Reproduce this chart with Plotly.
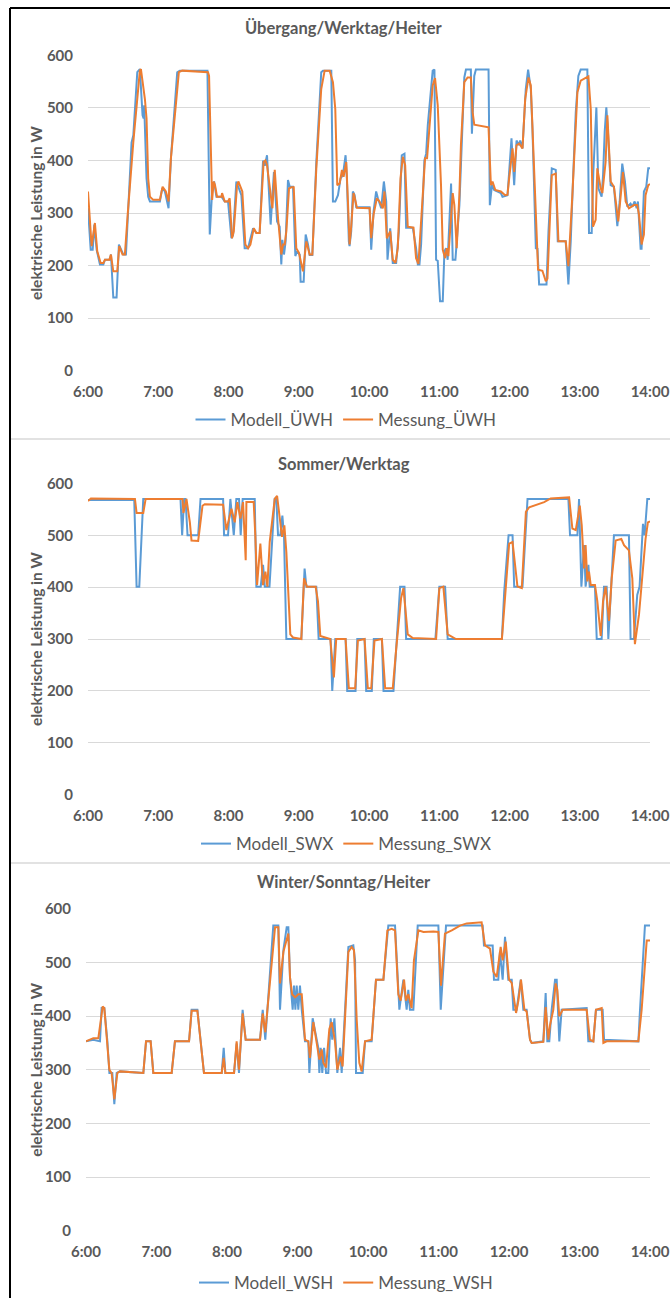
import plotly.graph_objects as go

W, H = 670, 1301

# ---------------- data (time in minutes after 6:00, power in W) ----------------
hour_labels = ["6:00", "7:00", "8:00", "9:00", "10:00", "11:00", "12:00", "13:00", "14:00"]
y_ticks = [0, 100, 200, 300, 400, 500, 600]

uwh_modell_t = [0, 2.3, 4, 5.4, 7.4, 10.2, 13.1, 14.5, 18.8, 19.6, 21.6, 24.4, 26.4, 28.7, 30.1, 32.4,
                34.4, 36, 37.2, 38.7, 42.1, 44.3, 46.6, 47.5, 48, 50, 51.4, 52.9, 61.4, 63.4, 65.7, 68.8,
                70.8, 76.2, 78.4, 102, 104, 106, 107.7, 109.7, 114, 116.8, 119.6, 122.5, 123.9, 126.7,
                131, 133.8, 136.7, 138.1, 141, 143.8, 146.6, 149.5, 151, 152.9, 156, 158.8, 161.5, 163.7,
                165.1, 166, 167.4, 168.8, 170.8, 172.3, 175.1, 177.1, 178.5, 180.8, 181.6, 184.2, 185.9,
                187.9, 189.3, 191.6, 195, 199.2, 200.7, 207.8, 209.2, 211.2, 213.5, 215.7, 217.7, 220,
                221.1, 222.8, 223.4, 224.8, 226.2, 227.7, 229.1, 240.5, 241.9, 243.9, 246.1, 247.6, 250.4,
                252.7, 254.7, 255.8, 258.1, 260.3, 263.2, 265.5, 268, 270.3, 271.7, 277.4, 280.2, 281.7,
                283.1, 284.5, 287.3, 288.8, 290.2, 294.4, 295.9, 297.3, 298.7, 300.7, 303, 304.4, 305.8,
                307.2, 310.1, 311.5, 313.8, 317.2, 319.4, 321.4, 322.8, 327, 327.9, 329.9, 331.3, 342.1,
                343.2, 345, 346.9, 352.6, 354, 358.3, 359.7, 361.7, 364, 366, 367.7, 369.1, 371.1, 373.9,
                375.9, 378.2, 379.6, 381, 382.5, 383.9, 385.3, 391.6, 393.3, 396.1, 399.5, 401.2, 408,
                410.3, 412.3, 414.3, 416.6, 418.8, 420.8, 426.5, 427.9, 430.2, 431.6, 434.2, 435.9, 438.7,
                439.9, 441.3, 442.7, 444.1, 446.4, 449.2, 452.1, 454.1, 456.3, 458.6, 460.6, 463.4, 464.9,
                466.9, 468.6, 469.7, 472, 472.8, 474.8, 476.8, 478.5, 480]
uwh_modell_w = [309, 230, 230, 278, 230, 202, 202, 211, 211, 221, 139, 139, 240, 230, 221, 221,
                309, 397, 434, 448, 568, 574, 486, 480, 505, 366, 331, 322, 322, 347, 341, 309,
                404, 568, 571, 571, 259, 341, 360, 331, 331, 322, 322, 252, 258, 360,
                334, 233, 233, 246, 271, 262, 262, 400, 390, 410, 278, 378, 284, 274,
                202, 249, 221, 246, 363, 350, 350, 218, 227, 221, 169, 169, 259,
                240, 220, 220, 397, 568, 571, 571, 322, 322, 334, 366, 372, 410,
                366, 246, 237, 265, 341, 334, 311, 311, 230, 303, 341, 328, 309,
                360, 322, 211, 271, 205, 205, 265, 410, 413, 272, 272, 233, 202,
                202, 240, 400, 413, 467, 571, 573, 211, 209, 132, 132, 227, 233,
                211, 356, 211, 211, 315, 460, 558, 573, 573, 451, 561, 573, 573,
                315, 353, 344, 338, 331, 334, 378, 442, 353, 438, 429, 438, 423, 536,
                573, 536, 460, 334, 233, 232, 164, 164, 265, 385, 382, 246, 246,
                164, 246, 366, 492, 561, 573, 573, 262, 262, 378, 501, 347, 331,
                372, 454, 501, 454, 353, 350, 275, 322, 394, 360, 312, 318, 312,
                322, 309, 322, 232, 232, 341, 350, 385, 385]

uwh_messung_t = [0, 1.7, 3.1, 5.9, 7.9, 10.8, 13.1, 14.5, 18.2, 19.6, 21.6, 25, 26.7, 29.5, 31.5, 34,
                 37.2, 38.7, 44.3, 45.2, 48.6, 50, 51.4, 52.9, 55.7, 61.4, 63.7, 66.5, 68.8, 70.8, 77.6,
                 80.5, 102.5, 103.4, 106, 107.4, 108.5, 110.2, 114, 114.5, 116.8, 119.6, 121, 123, 124.5,
                 127.3, 128.4, 131.8, 134.4, 136.7, 138.7, 141.6, 143.8, 146.6, 150, 151.5, 152.9, 157.5,
                 159.5, 162.3, 165.1, 166.6, 168, 169.4, 171.7, 173.7, 175.7, 177.9, 180.2, 182.2, 183.6,
                 186.5, 189.3, 191.6, 195, 199.2, 202.1, 206.4, 209.2, 211.2, 212.9, 214.9, 216.9, 218.3,
                 220.6, 222, 223.4, 224.8, 226.8, 228.5, 229.7, 240.5, 241.9, 243.9, 246.7, 249, 251.8,
                 253.2, 255.2, 258.1, 260.3, 262.6, 264.6, 266.9, 268.9, 270.9, 273.1, 278, 280.2, 282.2,
                 285.9, 287.9, 289.6, 291.6, 294.4, 296.4, 298.7, 301.5, 303, 305, 306.4, 307.8, 310.1,
                 311.5, 312.9, 314.9, 317.2, 318.5, 321.4, 324.2, 327, 328.5, 329.9, 342.1, 344.1, 345.5,
                 347.8, 352.6, 356.3, 358.3, 359.7, 362.6, 364, 366, 368.3, 371.1, 373.4, 376.2, 378.2,
                 381, 384.4, 388.1, 391, 392.4, 396.1, 399.5, 401.8, 408, 410.3, 413.7, 418, 420.8, 425.1,
                 427.4, 429.4, 431.3, 433.6, 435, 437.9, 439.3, 442.1, 443.6, 446.4, 449.2, 452.9, 454.9,
                 456.9, 459.2, 462, 466.3, 469.1, 470.6, 472.8, 474.8, 476.2, 478.5, 480]
uwh_messung_w = [341, 290, 237, 281, 227, 205, 205, 211, 211, 221, 189, 189, 237, 221, 221, 300,
                 397, 435, 571, 574, 517, 480, 366, 331, 325, 325, 350, 341, 322, 404, 568,
                 571, 568, 561, 325, 360, 353, 331, 331, 338, 322, 322, 328, 252, 265,
                 353, 360, 341, 240, 233, 240, 271, 262, 262, 397, 400, 391, 309,
                 382, 290, 221, 240, 240, 265, 347, 349, 349, 233, 224, 199, 189,
                 246, 221, 221, 385, 536, 571, 571, 549, 498, 353, 356, 382, 369,
                 397, 322, 240, 274, 338, 322, 310, 309, 252, 297, 328, 322, 309,
                 341, 252, 265, 211, 205, 233, 366, 407, 391, 274, 272, 214, 203,
                 328, 404, 404, 467, 543, 557, 505, 353, 230, 214, 233, 218, 284,
                 338, 315, 233, 334, 429, 549, 558, 558, 492, 468, 463, 353, 360,
                 344, 341, 334, 335, 366, 423, 378, 429, 432, 423, 517, 558, 543,
                 397, 192, 190, 170, 175, 372, 375, 246, 246, 199, 334, 530, 552, 558,
                 560, 498, 274, 287, 385, 347, 338, 397, 486, 360, 350, 284, 334,
                 378, 322, 309, 315, 315, 297, 240, 259, 334, 353, 355]

swx_modell_t = [0, 39.5, 41.5, 43.8, 47.2, 79, 80.4, 82.1, 83.3, 85, 94.1, 96.1, 115.4, 116.2, 119.6,
                121.6, 124.5, 126.7, 129, 130.4, 132.1, 142.4, 143.8, 147.5, 149.5, 151, 155, 159.4,
                160.8, 162.3, 164.3, 166, 167.4, 169.4, 182.2, 185, 186.5, 195, 197, 207.2, 208.6, 211.2,
                220, 221.4, 228.5, 230, 236.2, 237.6, 242.4, 244.1, 251, 252.4, 260.9, 263.8, 266.6,
                270.3, 271.7, 296.7, 300.1, 305, 307.2, 353.5, 355.5, 359.2, 362.6, 364, 371.1, 375.4,
                410.3, 411.7, 418, 419.4, 421.4, 423.7, 425, 427.4, 428.5, 433, 434.5, 438.7, 440.7, 443,
                444.4, 449.2, 462, 463.4, 466.3, 469.1, 471.1, 474, 475.4, 477.7, 480]
swx_modell_w = [568, 568, 401, 401, 570, 570, 500, 570, 570, 500, 500, 570, 570, 500, 500,
                570, 500, 570, 570, 500, 570, 570, 401, 401, 443, 401, 401, 570,
                573, 500, 500, 538, 500, 300, 300, 436, 401, 401, 300, 300, 200, 300,
                300, 200, 200, 300, 300, 200, 200, 300, 300, 200, 200, 300, 401,
                401, 300, 300, 401, 401, 300, 300, 392, 500, 500, 401, 401, 570,
                570, 500, 500, 570, 401, 481, 401, 443, 401, 401, 300, 300, 401, 401,
                300, 500, 500, 300, 300, 385, 401, 522, 500, 570, 570]

swx_messung_t = [0, 2.5, 40.1, 41.5, 47.2, 49.2, 80.7, 81.5, 84.1, 87, 88.4, 94.1, 97.8, 99.7, 115.4,
                 118.2, 122.5, 125.3, 127.6, 130.2, 132.4, 134.7, 135.3, 141.5, 142.9, 144.4, 147.2,
                 149.5, 151.5, 153.2, 155.2, 159.5, 161.5, 163.7, 165.7, 167.7, 169.4, 172.8, 175.1,
                 182.2, 184.5, 187, 194.4, 196.4, 198.4, 206.9, 210, 212, 220, 222.8, 228.2, 230.5, 236.2,
                 239, 241.9, 244.7, 251, 253.8, 260.3, 263.2, 267.4, 269.4, 273.1, 277.4, 297.3, 300.1,
                 303.5, 307.2, 314.3, 353.5, 356.9, 359.7, 362.6, 364.6, 366.8, 370.5, 374, 376.8, 381,
                 389.6, 395.2, 410.9, 413.7, 416.6, 420, 421.7, 423.7, 425, 426.5, 427.9, 429.4, 433, 435,
                 437.9, 439.9, 442.1, 445, 447.3, 450.7, 455.5, 457.8, 462, 464.9, 467.1, 470.6, 473.4,
                 476.2, 478.2, 480]
swx_messung_w = [566, 571, 570, 543, 543, 570, 570, 543, 570, 525, 490, 489, 557, 560, 559,
                 510, 551, 525, 564, 532, 564, 452, 564, 564, 500, 404, 484,
                 404, 430, 401, 487, 570, 576, 538, 497, 519, 468, 309, 303,
                 300, 417, 401, 401, 373, 306, 300, 226, 300, 300, 205, 205, 297, 300,
                 205, 205, 297, 300, 205, 205, 280, 379, 398, 309, 302, 300, 398,
                 401, 309, 300, 300, 401, 484, 487, 449, 401, 398, 545, 554, 557,
                 564, 571, 573, 513, 510, 557, 519, 436, 481, 411, 430, 404, 404, 373,
                 306, 373, 401, 335, 417, 490, 493, 481, 471, 417, 290, 347, 417,
                 493, 525, 527]

wsh_modell_t = [0, 6.2, 11.9, 13.3, 15.6, 18.2, 19.9, 22.4, 24.1, 26.1, 28.9, 48.8, 51.1, 55, 57.3,
                72.9, 75.7, 87.7, 89.9, 94.8, 97.6, 100.4, 115.5, 117.2, 118.6, 126, 128.2, 130.2, 133.3,
                135.9, 148.1, 150.4, 152.6, 159.4, 163.7, 165.1, 168, 170.8, 172.2, 173.6, 175.9, 177,
                178.2, 179.3, 180.7, 182.1, 183.6, 186.4, 189.2, 190.1, 192.9, 196.3, 197.7, 198.6, 199.7,
                201.1, 202.6, 204.3, 206.2, 208.2, 209.6, 211.4, 212.8, 213.9, 216.2, 217.6, 223.3, 227.5,
                229, 229.8, 235.5, 237.5, 243.1, 246.8, 253.1, 257.3, 263, 266.7, 270.1, 272.9, 274.3,
                275.7, 278.6, 282.3, 299.9, 301.9, 306.4, 337.6, 338.7, 346.1, 347.2, 350.9, 352.3, 354.6,
                356.6, 359.4, 362.3, 363.7, 366.5, 370, 372.2, 375, 377.9, 379.3, 389.2, 391.2, 392.6,
                394.3, 396.3, 399.2, 400.6, 402.8, 404.8, 426.1, 427.5, 431.8, 434, 439.7, 440.9, 470.1,
                471.5, 475.7, 480]
wsh_modell_w = [353, 356, 353, 415, 415, 353, 294, 294, 236, 294, 297, 294, 353, 353, 294,
                294, 353, 353, 412, 412, 353, 294, 294, 341, 294, 294, 349, 294, 412,
                356, 356, 412, 356, 569, 569, 412, 523, 566, 566, 473, 412, 457,
                412, 457, 412, 457, 412, 353, 353, 294, 396, 353, 341, 294, 341,
                294, 341, 294, 294, 396, 356, 396, 341, 294, 341, 294, 529, 532,
                504, 294, 294, 353, 353, 468, 468, 569, 569, 412, 468, 412, 449,
                412, 412, 569, 569, 412, 569, 569, 532, 532, 468, 468, 520, 468,
                548, 468, 468, 412, 412, 468, 412, 412, 356, 350, 353, 443, 353,
                353, 412, 468, 468, 353, 412, 415, 353, 353, 412, 412, 356, 353,
                412, 569, 569]

wsh_messung_t = [0, 6.2, 10.5, 14.2, 15.6, 18.2, 19.9, 21.8, 24.1, 26.7, 28.9, 48.8, 51.1, 55, 57.3,
                 72.9, 75.7, 87.7, 89.9, 94.8, 97.6, 100.4, 115.5, 117.2, 118.6, 126, 128.2, 130.2, 133.3,
                 135.9, 148.1, 150.4, 152.6, 160.9, 163.7, 165.1, 168, 172.2, 173.6, 175.4, 178, 180.7,
                 183.6, 186.4, 189.2, 190.6, 193.5, 196.3, 198.6, 200.6, 202, 204.3, 207.1, 209.1, 211.9,
                 213.9, 216.7, 218.4, 223.3, 226.1, 228.1, 230.4, 232.6, 234.6, 237.5, 243.1, 246.8, 253.1,
                 256.5, 260.2, 263, 265.8, 267.8, 270.7, 272.3, 274.3, 277.1, 279.1, 282.9, 287.2, 295.6,
                 299.9, 302.1, 305.5, 311.3, 318.3, 324, 336.7, 339.6, 343.8, 346.7, 349.5, 352.9, 354.6,
                 357.2, 360, 362.3, 366, 368, 370.2, 373.1, 375, 377.9, 379.3, 389.2, 391.2, 393.5, 394.9,
                 397.7, 399.7, 401.1, 402.8, 405.7, 426.1, 428.9, 431.8, 434, 438.9, 440.3, 443.1, 470.1,
                 472.9, 477.2, 480]
wsh_messung_w = [353, 359, 359, 418, 415, 353, 300, 294, 245, 294, 297, 294, 353, 353, 294,
                 294, 353, 353, 410, 410, 353, 294, 294, 322, 294, 294, 353, 300, 405,
                 356, 356, 405, 370, 566, 566, 461, 520, 554, 473, 441, 435, 441,
                 441, 356, 353, 322, 389, 350, 319, 338, 313, 304, 376, 389, 353,
                 300, 325, 306, 520, 529, 523, 393, 313, 297, 353, 356, 468, 468,
                 560, 563, 560, 441, 429, 468, 429, 441, 415, 504, 560, 557, 558,
                 557, 457, 554, 560, 569, 573, 575, 532, 526, 483, 473, 529, 504,
                 539, 468, 462, 406, 429, 468, 412, 409, 356, 350, 352, 417, 356, 383,
                 412, 461, 449, 400, 412, 412, 356, 353, 412, 415, 350, 353, 353,
                 412, 541, 541]

panels = [
    dict(title="Übergang/Werktag/Heiter", names=("Modell_ÜWH", "Messung_ÜWH"),
         series=((uwh_modell_t, uwh_modell_w), (uwh_messung_t, uwh_messung_w))),
    dict(title="Sommer/Werktag", names=("Modell_SWX", "Messung_SWX"),
         series=((swx_modell_t, swx_modell_w), (swx_messung_t, swx_messung_w))),
    dict(title="Winter/Sonntag/Heiter", names=("Modell_WSH", "Messung_WSH"),
         series=((wsh_modell_t, wsh_modell_w), (wsh_messung_t, wsh_messung_w))),
]

# ---------------- layout geometry (pixels) ----------------
geom = [
    dict(left=88, right=650, top=55, bottom=372, title_y=28, legend_y=421),
    dict(left=88, right=650, top=484, bottom=797, title_y=465, legend_y=846),
    dict(left=86, right=650, top=910.5, bottom=1234, title_y=884, legend_y=1286),
]

def fx(p):
    return p / W

def fy(p):
    return 1 - p / H

BLUE = "#5B9BD5"
ORANGE = "#ED7D31"
TXT = "#595959"
GRID = "#D9D9D9"
FONT = "Lato"

fig = go.Figure()
layout = dict(
    width=W, height=H, margin=dict(l=0, r=0, t=0, b=0),
    paper_bgcolor="white", plot_bgcolor="white",
    template="none", showlegend=True,
)
annotations = []
shapes = []

tick_vals = [60 * i for i in range(len(hour_labels))]

for i, (p, g) in enumerate(zip(panels, geom)):
    n = "" if i == 0 else str(i + 1)
    xa, ya = "x" + n, "y" + n
    lg = "legend" + n
    for (t, w), name, col in zip(p["series"], p["names"], (BLUE, ORANGE)):
        fig.add_trace(go.Scatter(x=t, y=w, mode="lines", name=name,
                                 line=dict(color=col, width=2),
                                 xaxis=xa, yaxis=ya, legend=lg, hoverinfo="skip"))
    layout["xaxis" + n] = dict(
        domain=[fx(g["left"]), fx(g["right"])], anchor=ya, range=[0, 480],
        tickmode="array", tickvals=tick_vals, ticktext=hour_labels,
        showgrid=False, zeroline=False, showline=False, ticks="",
        ticklabelstandoff=10, automargin=False,
        tickfont=dict(family=FONT, size=15, color=TXT, weight="bold"),
    )
    layout["yaxis" + n] = dict(
        domain=[fy(g["bottom"]), fy(g["top"])], anchor=xa, range=[-1, 601],
        tickmode="array", tickvals=y_ticks,
        showgrid=True, gridcolor=GRID, gridwidth=1, zeroline=False, showline=False,
        ticks="", ticklabelstandoff=14, automargin=False,
        tickfont=dict(family=FONT, size=15, color=TXT, weight="bold"),
    )
    layout[lg] = dict(
        orientation="h", x=fx(346), xanchor="center", y=fy(g["legend_y"]), yanchor="middle",
        font=dict(family=FONT, size=17, color=TXT), bgcolor="rgba(0,0,0,0)",
        itemwidth=30, tracegroupgap=0,
    )
    annotations.append(dict(
        text="<b>%s</b>" % p["title"], x=fx(344), y=fy(g["title_y"]), xref="paper", yref="paper",
        xanchor="center", yanchor="middle", showarrow=False,
        font=dict(family=FONT, size=16.5, color=TXT)))
    annotations.append(dict(
        text="<b>elektrische Leistung in W</b>", x=fx(36), y=fy((g["top"] + g["bottom"]) / 2),
        xref="paper", yref="paper", xanchor="center", yanchor="middle", textangle=-90,
        showarrow=False, font=dict(family=FONT, size=15.5, color=TXT)))

# chart-area frame lines
shapes.append(dict(type="line", xref="paper", yref="paper", x0=fx(10), x1=1, y0=fy(8), y1=fy(8),
                   line=dict(color="black", width=2)))
shapes.append(dict(type="line", xref="paper", yref="paper", x0=fx(10), x1=fx(10), y0=fy(8), y1=0,
                   line=dict(color="black", width=2)))
for yy in (440, 865):
    shapes.append(dict(type="line", xref="paper", yref="paper", x0=fx(11), x1=1, y0=fy(yy), y1=fy(yy),
                       line=dict(color=GRID, width=1.5)))

layout["annotations"] = annotations
layout["shapes"] = shapes
fig.update_layout(**layout)

page_fix = ("document.body.style.margin='0px';"
            "document.body.style.padding='0px';"
            "document.body.style.overflow='hidden';"
            "document.documentElement.style.overflow='hidden';")
fig.write_html("out.html", post_script=page_fix,
               config={"displayModeBar": False, "staticPlot": True})
